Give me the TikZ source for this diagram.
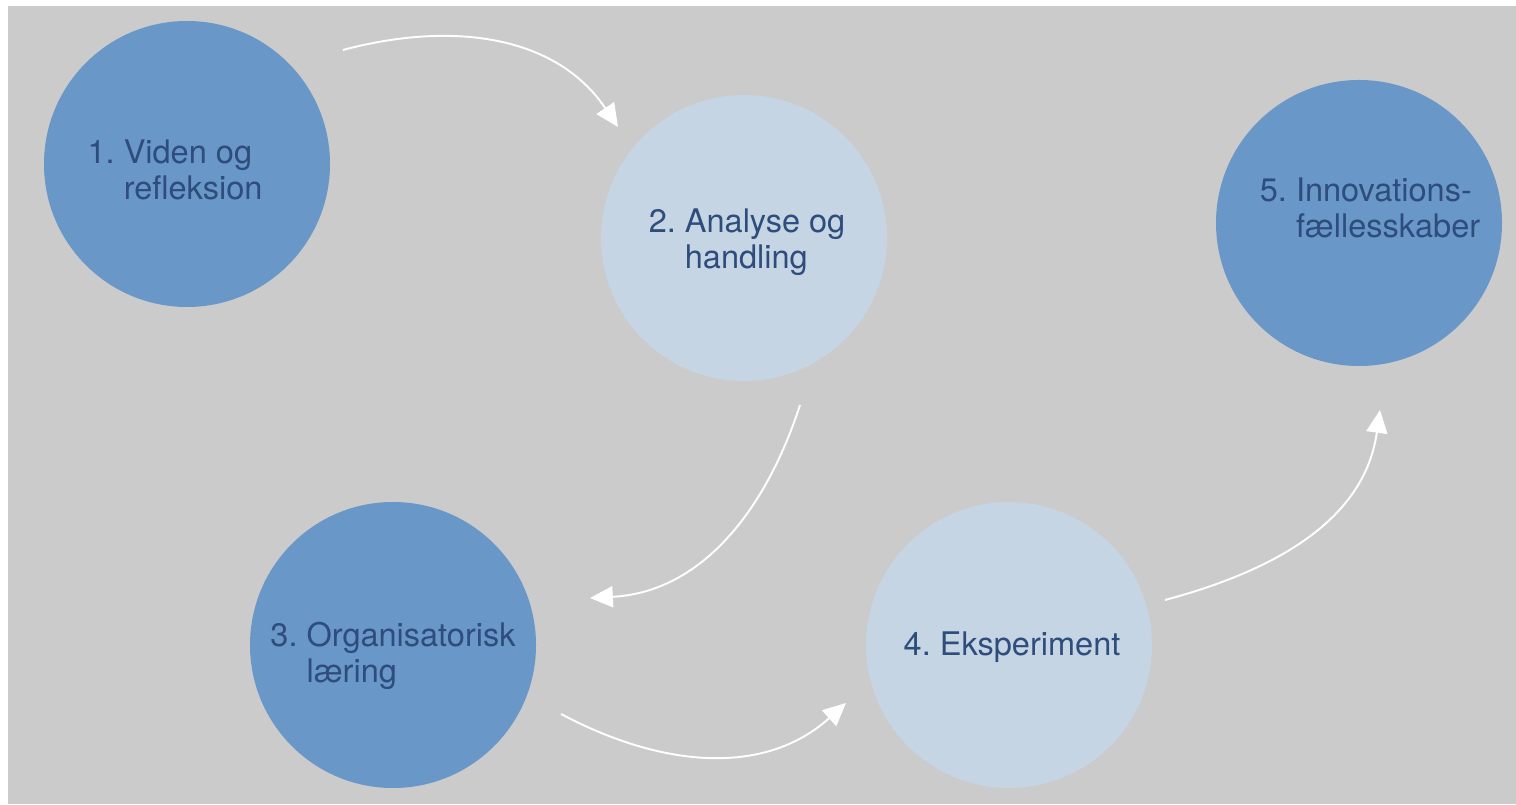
\documentclass[tikz,border=0pt]{standalone}
\usepackage{fontspec}
\setmainfont{TeX Gyre Heros}
\usetikzlibrary{calc,arrows.meta}
\frenchspacing

\definecolor{bggray}{HTML}{CBCBCB}
\definecolor{darkdisc}{HTML}{6897C8}
\definecolor{lightdisc}{HTML}{C5D5E3}
\definecolor{labelblue}{HTML}{2E4C7C}

\tikzset{
  disc/.style={circle, minimum size=5.72cm, inner sep=0pt},
  stage/.style={align=left, text=labelblue, font=\fontsize{18.5}{20.4}\selectfont},
  flow/.style={white, line width=1.1pt, -{Triangle[length=13pt,width=12pt]}}
}

\begin{document}
\begin{tikzpicture}
    \useasboundingbox (0,0) rectangle (30.32,16.08);
    \fill [bggray] (0.16,0) rectangle (30.32,15.96);% background

    \node [disc, fill=darkdisc]  (c1) at (3.74,12.8) {};
    \node [disc, fill=lightdisc] (c2) at (14.88,11.32) {};
    \node [disc, fill=darkdisc]  (c3) at (7.86,3.18) {};
    \node [disc, fill=lightdisc] (c4) at (20.18,3.18) {};
    \node [disc, fill=darkdisc]  (c5) at (27.18,11.62) {};

    \node [stage, xshift=-0.24cm, yshift=-0.12cm] (t1) at (c1) {1. Viden og\\\phantom{1. }refleksion};
    \node [stage, xshift=0.06cm, yshift=-0.08cm] (t2) at (c2) {2. Analyse og\\\phantom{2. }handling};
    \node [stage, yshift=-0.22cm] (t3) at (c3) {3. Organisatorisk\\\phantom{3. }læring};
    \node [stage, xshift=0.06cm, yshift=-0.04cm] (t4) at (c4) {4. Eksperiment};
    \node [stage, xshift=0.22cm, yshift=0.3cm] (t5) at (c5) {5. Innovations-\\\phantom{5. }fællesskaber};

    % arrow ends
    \coordinate (a1s) at ($(c1)+(3.12,2.28)$);
    \coordinate (a1e) at ($(c2)+(-2.52,2.22)$);
    \coordinate (a2s) at ($(c2)+(1.12,-3.34)$);
    \coordinate (a2e) at ($(c3)+(3.94,0.94)$);
    \coordinate (a3s) at ($(c3)+(3.36,-1.38)$);
    \coordinate (a3e) at ($(c4)+(-3.26,-1.16)$);
    \coordinate (a4s) at ($(c4)+(3.12,0.9)$);
    \coordinate (a4e) at ($(c5)+(0.42,-3.74)$);

    \draw [flow] (a1s) to [out=15, in=124] (a1e);
    \draw [flow] (a2s) to [out=-108, in=3] (a2e);
    \draw [flow] (a3s) to [out=-28, in=222] (a3e);
    \draw [flow] (a4s) to [out=15, in=-98] (a4e);
\end{tikzpicture}
\end{document}
